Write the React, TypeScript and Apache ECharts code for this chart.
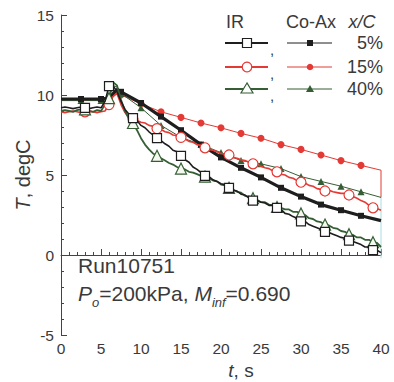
import React, { useEffect, useRef } from "react";
import * as echarts from "echarts";

// ---- data ----
const xTicks = [0, 5, 10, 15, 20, 25, 30, 35, 40];
const yTicks = [-5, 0, 5, 10, 15];

// IR time grid (0.5 s)
const tIR = Array.from({ length: 81 }, (_, i) => i * 0.5);

const ir5 = [
  9.2, 9.25, 9.2, 9.15, 9.2, 9.25, 9.2, 9.15, 9.2, 9.25,
  9.2, 9.6, 10.55, 10.6, 10.2, 9.6, 9.1, 8.8, 8.55, 8.4,
  8.1, 7.95, 7.7, 7.5, 7.3, 7.15, 6.95, 6.8, 6.55, 6.45,
  6.2, 5.95, 5.8, 5.5, 5.35, 5.15, 4.95, 4.9, 4.7, 4.6,
  4.45, 4.4, 4.2, 4.05, 4.0, 3.8, 3.75, 3.55, 3.4, 3.4,
  3.3, 3.25, 3.1, 3.1, 2.95, 2.85, 2.6, 2.55, 2.4, 2.3,
  2.1, 2.1, 1.9, 1.8, 1.7, 1.6, 1.45, 1.4, 1.3, 1.2,
  1.1, 1.05, 0.9, 0.85, 0.75, 0.65, 0.5, 0.5, 0.3, 0.3,
  0.15,
];
const ir15 = [
  8.95, 8.9, 8.95, 9.0, 8.95, 8.9, 8.95, 9.0, 8.95, 8.9,
  8.95, 9.0, 9.4, 9.9, 10.1, 9.4, 8.9, 8.6, 8.5, 8.4,
  8.3, 8.25, 8.1, 8.05, 7.9, 7.85, 7.7, 7.65, 7.5, 7.45,
  7.35, 7.25, 7.1, 7.05, 6.9, 6.85, 6.7, 6.6, 6.55, 6.45,
  6.35, 6.3, 6.25, 6.1, 6.05, 5.95, 5.9, 5.8, 5.7, 5.65,
  5.55, 5.45, 5.4, 5.25, 5.2, 5.05, 5.0, 4.85, 4.8, 4.65,
  4.55, 4.5, 4.35, 4.3, 4.15, 4.1, 4.0, 4.05, 3.95, 3.9,
  3.85, 3.85, 3.75, 3.65, 3.55, 3.4, 3.3, 3.1, 2.95, 2.9,
  2.8,
];
const ir40 = [
  9.0, 9.05, 9.0, 8.95, 9.05, 9.1, 9.1, 9.0, 8.95, 9.05,
  9.0, 9.4, 9.8, 10.8, 10.6, 9.7, 9.0, 8.5, 8.25, 7.8,
  7.3, 6.9, 6.6, 6.35, 6.2, 6.05, 5.9, 5.75, 5.65, 5.5,
  5.4, 5.35, 5.2, 5.15, 5.05, 4.95, 4.9, 4.8, 4.65, 4.6,
  4.4, 4.35, 4.2, 4.1, 3.95, 3.9, 3.7, 3.65, 3.55, 3.45,
  3.3, 3.3, 3.15, 3.1, 3.0, 2.95, 2.85, 2.85, 2.7, 2.7,
  2.6, 2.5, 2.3, 2.25, 2.1, 2.05, 1.9, 1.85, 1.7, 1.65,
  1.5, 1.45, 1.3, 1.25, 1.1, 1.1, 0.95, 0.95, 0.8, 0.75,
  0.5,
];

// Co-Ax series
const tCo5 = [0, 2.5, 5, 6, 7, 7.5, 10, 12.5, 15, 17.5, 20, 22.5, 25, 27.5, 30, 32.5, 35, 37.5, 40];
const co5 = [9.75, 9.75, 9.75, 9.8, 10.35, 10.2, 9.5, 8.65, 7.8, 6.9, 6.1, 5.45, 4.85, 4.2, 3.65, 3.15, 2.8, 2.45, 2.15];
const tCo15 = [0, 2.5, 5, 6, 7, 7.5, 10, 12.5, 15, 17.5, 20, 22.5, 25, 27.5, 30, 32.5, 35, 37.5, 40, 40];
const co15 = [9.7, 9.7, 9.7, 9.75, 10.2, 10.0, 9.45, 8.95, 8.6, 8.25, 7.95, 7.6, 7.3, 6.9, 6.6, 6.25, 5.9, 5.6, 5.3, 3.6];
const tCo40 = [0, 2.5, 5, 6, 6.5, 7, 7.5, 10, 12.5, 15, 17.5, 20, 22.5, 25, 27.5, 30, 32.5, 35, 37.5, 40];
const co40 = [9.65, 9.65, 9.65, 9.8, 10.6, 10.5, 10.1, 9.2, 8.1, 7.35, 6.9, 6.4, 5.9, 5.7, 5.4, 4.9, 4.6, 4.3, 3.95, 3.6];
const tEdge = [40, 40];
const edge = [3.6, -0.2];

const legendRows = ["5%", "15%", "40%"];

const FONT = "Liberation Sans, Arial, Helvetica, sans-serif";
const BLACK = "#1e1e1e";
const RED = "#e33a35";
const GREEN = "#355e35";
const TXT = "#3a3a3a";

function irData(vals: number[]) {
  return vals.map((v, i) => {
    const t = tIR[i];
    const mark = i > 0 && i % 6 === 0;
    return mark ? { value: [t, v] } : { value: [t, v], symbol: "none" };
  });
}
function coData(ts: number[], vals: number[]) {
  return vals.map((v, i) => {
    const t = ts[i];
    const mark = t > 0 && t < 40 && Math.abs(t / 2.5 - Math.round(t / 2.5)) < 1e-6;
    return mark ? { value: [t, v] } : { value: [t, v], symbol: "none" };
  });
}

function txt(x: number, y: number, text: string, size: number, align: string, italic = false) {
  return {
    type: "text", x, y,
    style: {
      text, fontSize: size, fontFamily: FONT, fontStyle: italic ? "italic" : "normal",
      fill: TXT, textAlign: align, textVerticalAlign: "middle",
    },
  };
}

export default function App() {
  const ref = useRef<HTMLDivElement>(null);
  useEffect(() => {
    if (!ref.current) return;
    const chart = echarts.init(ref.current, undefined, { renderer: "svg" });

    const rowY = [43, 67, 89];
    const legendEls: any[] = [
      txt(235, 22, "IR", 18, "center"),
      txt(311, 22, "Co-Ax", 18, "center"),
      txt(362, 22, "x/C", 18, "center", true),
    ];
    const colors = [BLACK, RED, GREEN];
    legendRows.forEach((lab, k) => {
      const y = rowY[k];
      legendEls.push({ type: "line", shape: { x1: 225, y1: y, x2: 268, y2: y }, style: { stroke: colors[k], lineWidth: 2 } });
      if (k === 0) legendEls.push({ type: "rect", shape: { x: 242.5, y: y - 4.5, width: 9, height: 9 }, style: { fill: "#fff", stroke: BLACK, lineWidth: 1.2 } });
      if (k === 1) legendEls.push({ type: "circle", shape: { cx: 247, cy: y, r: 4.8 }, style: { fill: "#fff", stroke: RED, lineWidth: 1.2 } });
      if (k === 2) legendEls.push({ type: "polygon", shape: { points: [[247, y - 6], [241, y + 4], [253, y + 4]] }, style: { fill: "#fff", stroke: GREEN, lineWidth: 1.2 } });
      legendEls.push(txt(272, y + 6, ",", 15, "center"));
      legendEls.push({ type: "line", shape: { x1: 287, y1: y, x2: 332, y2: y }, style: { stroke: colors[k], lineWidth: 1 } });
      if (k === 0) legendEls.push({ type: "rect", shape: { x: 307, y: y - 3, width: 6, height: 6 }, style: { fill: BLACK } });
      if (k === 1) legendEls.push({ type: "circle", shape: { cx: 310, cy: y, r: 3.3 }, style: { fill: RED } });
      if (k === 2) legendEls.push({ type: "polygon", shape: { points: [[310, y - 4], [306, y + 3], [314, y + 3]] }, style: { fill: GREEN } });
      legendEls.push(txt(383, y, lab, 18, "right"));
    });

    const richBase = { fontFamily: FONT, fill: TXT, color: TXT };
    const option: any = {
      animation: false,
      backgroundColor: "#fff",
      grid: { left: 61, right: 13, top: 15, bottom: 47 },
      xAxis: {
        type: "value",
        min: xTicks[0],
        max: xTicks[xTicks.length - 1],
        interval: 5,
        axisLine: { lineStyle: { color: "#444", width: 1 } },
        axisTick: { inside: true, length: 6, lineStyle: { color: "#444" } },
        minorTick: { show: true, splitNumber: 5, length: 3, lineStyle: { color: "#444" } },
        splitLine: { show: false },
        axisLabel: { color: TXT, fontSize: 15.5, fontFamily: FONT, margin: 5 },
      },
      yAxis: {
        type: "value",
        min: yTicks[0],
        max: yTicks[yTicks.length - 1],
        interval: 5,
        axisLine: { show: true, lineStyle: { color: "#444", width: 1 } },
        axisTick: { show: true, inside: true, length: 6, lineStyle: { color: "#444" } },
        minorTick: { show: true, splitNumber: 5, length: 3, lineStyle: { color: "#444" } },
        splitLine: { show: false },
        axisLabel: { color: TXT, fontSize: 15.5, fontFamily: FONT, margin: 7 },
      },
      series: [
        {
          type: "line", name: "edge", data: tEdge.map((t, i) => [t, edge[i]]), symbol: "none",
          lineStyle: { color: "#a8dede", width: 1 }, z: 1,
        },
        {
          type: "line", name: "Co-Ax 15%", data: coData(tCo15, co15), symbol: "circle", symbolSize: 7, showAllSymbol: true,
          lineStyle: { color: RED, width: 1 }, itemStyle: { color: RED }, z: 2,
        },
        {
          type: "line", name: "Co-Ax 40%", data: coData(tCo40, co40), symbol: "triangle", symbolSize: 7, showAllSymbol: true,
          lineStyle: { color: GREEN, width: 1 }, itemStyle: { color: GREEN }, z: 2,
        },
        {
          type: "line", name: "Co-Ax 5%", data: coData(tCo5, co5), symbol: "rect", symbolSize: 6, showAllSymbol: true,
          lineStyle: { color: BLACK, width: 3.2 }, itemStyle: { color: BLACK }, z: 3,
        },
        {
          type: "line", name: "IR 15%", data: irData(ir15), symbol: "circle", symbolSize: 10, showAllSymbol: true,
          lineStyle: { color: RED, width: 1.6 }, itemStyle: { color: "#fff", borderColor: RED, borderWidth: 1.2 }, z: 4,
        },
        {
          type: "line", name: "IR 40%", data: irData(ir40), symbol: "triangle", symbolSize: 11, showAllSymbol: true,
          lineStyle: { color: GREEN, width: 1.8 }, itemStyle: { color: "#f4f8ee", borderColor: GREEN, borderWidth: 1.2 }, z: 4,
        },
        {
          type: "line", name: "IR 5%", data: irData(ir5), symbol: "rect", symbolSize: 9, showAllSymbol: true,
          lineStyle: { color: BLACK, width: 1.6 }, itemStyle: { color: "#fff", borderColor: BLACK, borderWidth: 1.2 }, z: 5,
        },
      ],
      graphic: [
        ...legendEls,
        {
          type: "text", x: 23, y: 175, rotation: Math.PI / 2,
          style: {
            text: "{i|T}{n|, degC}",
            textAlign: "center", textVerticalAlign: "middle",
            rich: {
              i: { ...richBase, fontSize: 20, fontStyle: "italic" },
              n: { ...richBase, fontSize: 20 },
            },
          },
        },
        {
          type: "text", x: 241, y: 370,
          style: {
            text: "{i|t}{n|, s}",
            textAlign: "center", textVerticalAlign: "middle",
            rich: {
              i: { ...richBase, fontSize: 19, fontStyle: "italic", lineHeight: 19 },
              n: { ...richBase, fontSize: 19, lineHeight: 19 },
            },
          },
        },
        txt(78, 265, "Run10751", 21, "left"),
        {
          type: "text", x: 78, y: 297,
          style: {
            text: "{i|P}{s|o}{n|=200kPa, }{i|M}{s|inf}{n|=0.690}",
            textAlign: "left", textVerticalAlign: "middle",
            rich: {
              i: { ...richBase, fontSize: 21, fontStyle: "italic", lineHeight: 24, padding: [0, 0, 5, 0], verticalAlign: "bottom" },
              n: { ...richBase, fontSize: 21, lineHeight: 24, padding: [0, 0, 5, 0], verticalAlign: "bottom" },
              s: { ...richBase, fontSize: 13, fontStyle: "italic", lineHeight: 14, verticalAlign: "bottom" },
            },
          },
        },
      ],
    };
    chart.setOption(option);
    return () => chart.dispose();
  }, []);
  return (
    <div
      ref={ref}
      style={{ position: "fixed", left: 0, top: 0, width: 394, height: 382, background: "#fff" }}
    />
  );
}
